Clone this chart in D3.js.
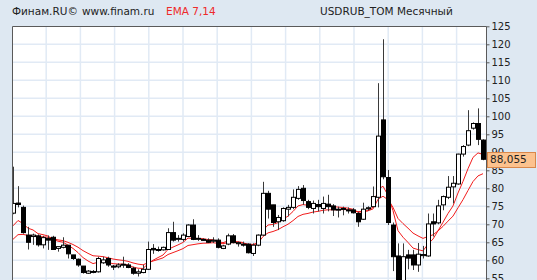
<!DOCTYPE html>
<html><head><meta charset="utf-8">
<script src="https://cdn.jsdelivr.net/npm/d3@7"></script>
<style>
html,body{margin:0;padding:0;background:#dee8f2;overflow:hidden;}
svg{display:block;}
</style></head>
<body>
<svg id="c" width="537" height="280"></svg>
<script>
// ---- data (USDRUB_TOM, monthly, Jan 2016 .. Nov 2023) ----
const months = d3.timeMonth.range(new Date(2016,0,1), new Date(2023,11,1));
const open  = [73.1,75.9,74.7,67.0,66.6,66.8,64.3,66.1,66.4,63.3,63.6,64.2,61.5,60.3,58.4,56.4,56.7,56.8,59.3,60.5,
               58.4,58.2,58.7,58.7,57.8,56.4,56.6,57.5,63.3,62.9,62.9,63.0,67.7,65.9,65.8,66.6,69.8,65.9,65.6,65.6,
               65.3,65.6,63.3,64.5,66.8,64.6,64.5,64.5,61.9,64.2,67.0,78.6,75.4,70.7,71.0,74.2,74.7,77.2,80.0,76.3,
               74.4,75.5,74.4,75.6,75.1,74.0,74.2,74.0,74.0,73.0,71.4,74.3,74.9,77.5,99.0,83.0,69.8,61.2,51.5,61.5,
               61.5,58.7,61.3,61.2,70.7,70.4,75.4,77.5,80.4,81.2,89.5,92.0,96.7,98.0,93.4];
const high  = [86.0,80.6,75.2,69.3,67.4,67.2,66.8,66.9,66.8,63.8,66.4,64.2,61.5,60.5,58.4,57.3,57.3,61.0,61.0,61.0,
               58.7,59.2,61.0,59.2,58.2,57.5,58.7,65.2,64.5,63.8,63.8,68.9,70.7,67.0,67.5,70.0,71.4,67.0,66.1,66.1,
               66.4,66.1,64.3,67.4,67.3,65.2,65.2,64.7,64.7,67.2,81.8,79.3,75.4,72.6,74.7,75.4,79.7,80.6,80.9,76.8,
               76.6,76.8,77.7,78.2,75.6,74.9,74.9,74.7,74.5,73.5,76.0,75.0,80.5,109.2,121.4,85.1,70.5,64.7,64.7,62.9,
               62.9,64.8,64.0,73.0,73.0,76.8,78.0,83.4,83.4,89.6,92.0,101.7,98.3,102.2,93.6];
const low   = [72.8,74.7,67.4,63.0,64.3,63.8,63.3,62.9,62.9,62.4,63.3,60.5,60.1,58.2,56.3,56.2,56.4,56.6,59.0,58.2,
               57.3,57.8,57.9,57.8,56.0,55.5,56.4,57.3,61.8,62.4,62.7,62.9,65.2,65.2,65.2,66.5,65.6,65.4,65.4,64.8,
               64.8,63.3,63.1,64.2,64.7,63.8,63.8,61.9,61.2,63.9,66.8,71.6,69.3,68.4,70.7,72.2,74.2,76.8,75.4,74.2,
               73.0,73.6,73.0,73.6,72.3,71.9,72.5,73.0,73.0,69.3,71.2,73.8,74.7,74.7,82.5,69.8,57.0,50.0,50.5,57.5,
               57.3,56.8,60.5,61.0,66.6,70.0,73.9,77.0,75.8,81.0,88.8,91.7,96.3,92.0,87.8];
const close = [75.8,75.5,67.7,65.0,67.0,64.3,66.3,65.6,63.0,63.8,64.2,61.8,60.5,58.7,56.6,57.0,56.9,60.5,60.1,58.7,
               58.1,58.7,58.9,58.0,56.4,56.8,57.5,63.0,62.9,63.0,63.6,67.7,65.6,66.1,67.0,69.8,65.8,66.1,65.8,65.0,
               65.6,63.6,64.0,66.8,64.9,64.9,64.2,62.1,64.2,67.0,78.6,74.2,70.5,71.9,74.4,74.7,77.5,79.7,76.6,74.7,
               75.8,74.9,75.8,74.9,74.0,74.2,74.4,73.9,73.2,70.7,74.2,74.6,77.7,94.5,83.2,70.5,61.0,51.5,61.0,60.6,
               58.7,61.7,61.6,70.1,70.1,75.1,77.7,80.3,81.4,89.5,91.6,96.0,98.0,93.6,88.055];
const emaPeriods = [7, 14];
const emaSeeds = [67.5, 64.3];   // indicator values just before the first visible month
const yTicks = [55,60,65,70,75,80,85,90,95,100,105,110,115,120,125];
const lastLabel = "88,055";

// ---- layout ----
const W = 537, H = 280;
const P = {left:12, top:26, right:486, bottom:300};
const svg = d3.select("#c");
const n = close.length;

const x = d3.scaleLinear().domain([0, n-1]).range([13, 483]);
const y = d3.scaleLinear().domain([55,125]).range([278.3, 26.3]);

svg.append("defs").append("clipPath").attr("id","pc")
  .append("rect").attr("x",P.left).attr("y",P.top).attr("width",P.right-P.left).attr("height",P.bottom-P.top);

// plot background
svg.append("rect").attr("x",P.left).attr("y",P.top).attr("width",P.right-P.left).attr("height",P.bottom-P.top)
  .attr("fill","#ffffff");

const g = svg.append("g").attr("clip-path","url(#pc)");

// grid
const gridColor = "#e1eaf5";
g.selectAll("line.hg").data(d3.range(40,126,5)).join("line")
  .attr("x1",P.left).attr("x2",P.right).attr("y1",d=>y(d)).attr("y2",d=>y(d))
  .attr("stroke",gridColor).attr("stroke-width",1.5);
const vx = d3.scaleLinear().domain([0,1]).range([P.left, P.left+34.2]);
g.selectAll("line.vg").data(d3.range(1,14)).join("line")
  .attr("x1",d=>vx(d)).attr("x2",d=>vx(d)).attr("y1",P.top).attr("y2",P.bottom)
  .attr("stroke",gridColor).attr("stroke-width",1.5);

// EMA lines
emaPeriods.forEach((p,k)=>{
  const a = 2/(p+1);
  let prev = emaSeeds[k];
  const vals = close.map(c => (prev = prev + a*(c-prev)));
  g.append("path").datum(vals)
    .attr("fill","none").attr("stroke","#f21c1c").attr("stroke-width",1)
    .attr("d", d3.line().x((d,i)=>x(i)).y(d=>y(d)));
});

// candles
const idx = d3.range(n);
const cg = g.append("g");
cg.selectAll("line.wick").data(idx).join("line")
  .attr("x1",i=>Math.round(x(i))+0.5).attr("x2",i=>Math.round(x(i))+0.5)
  .attr("y1",i=>y(high[i])).attr("y2",i=>y(low[i]))
  .attr("stroke","#3a3a3a").attr("stroke-width",1);
cg.selectAll("rect.body").data(idx).join("rect")
  .attr("x",i=>Math.round(x(i))-1.5)
  .attr("width",4)
  .attr("y",i=>y(Math.max(open[i],close[i])))
  .attr("height",i=>Math.max(1, Math.abs(y(open[i])-y(close[i]))))
  .attr("fill",i=> close[i]>=open[i] ? "#ffffff" : "#000000")
  .attr("stroke","#000").attr("stroke-width",1);

// border
svg.append("path")
  .attr("d",`M${P.left+0.5},${P.bottom}V${P.top+0.5}H${P.right+0.5}V${P.bottom}`)
  .attr("fill","none").attr("stroke","#5a5a5a").attr("stroke-width",1);

// right axis
const ax = svg.append("g").attr("transform",`translate(${P.right+0.5},0)`)
  .call(d3.axisRight(y).tickValues(yTicks).tickSize(3).tickPadding(2).tickFormat(d3.format("d")));
ax.select(".domain").remove();
ax.selectAll("line").attr("stroke","#5a5a5a");
ax.selectAll("text").attr("font-family","DejaVu Sans, Verdana, sans-serif").attr("font-size","10px")
  .attr("fill","#222");

// last price tag
const ly = y(close[n-1]);
svg.append("rect").attr("x",P.right+1.5).attr("y",Math.round(ly-7.5)+0.5).attr("width",48).attr("height",15)
  .attr("fill","#fcc28e").attr("stroke","#d9874a");
svg.append("text").attr("x",P.right+4).attr("y",ly+4)
  .attr("font-family","DejaVu Sans, Verdana, sans-serif").attr("font-size","10.5px").attr("fill","#222")
  .text(lastLabel);

// header texts
const hdr = [
  {t:"Финам.RU©", x:12, c:"#222"},
  {t:"www.finam.ru", x:82, c:"#222"},
  {t:"EMA 7,14", x:166, c:"#ee2a2a"},
  {t:"USDRUB_TOM Месячный", x:320, c:"#222"}
];
svg.selectAll("text.h").data(hdr).join("text")
  .attr("x",d=>d.x).attr("y",15)
  .attr("font-family","DejaVu Sans, Verdana, sans-serif").attr("font-size","10.5px")
  .attr("fill",d=>d.c).text(d=>d.t);
</script>
</body></html>
